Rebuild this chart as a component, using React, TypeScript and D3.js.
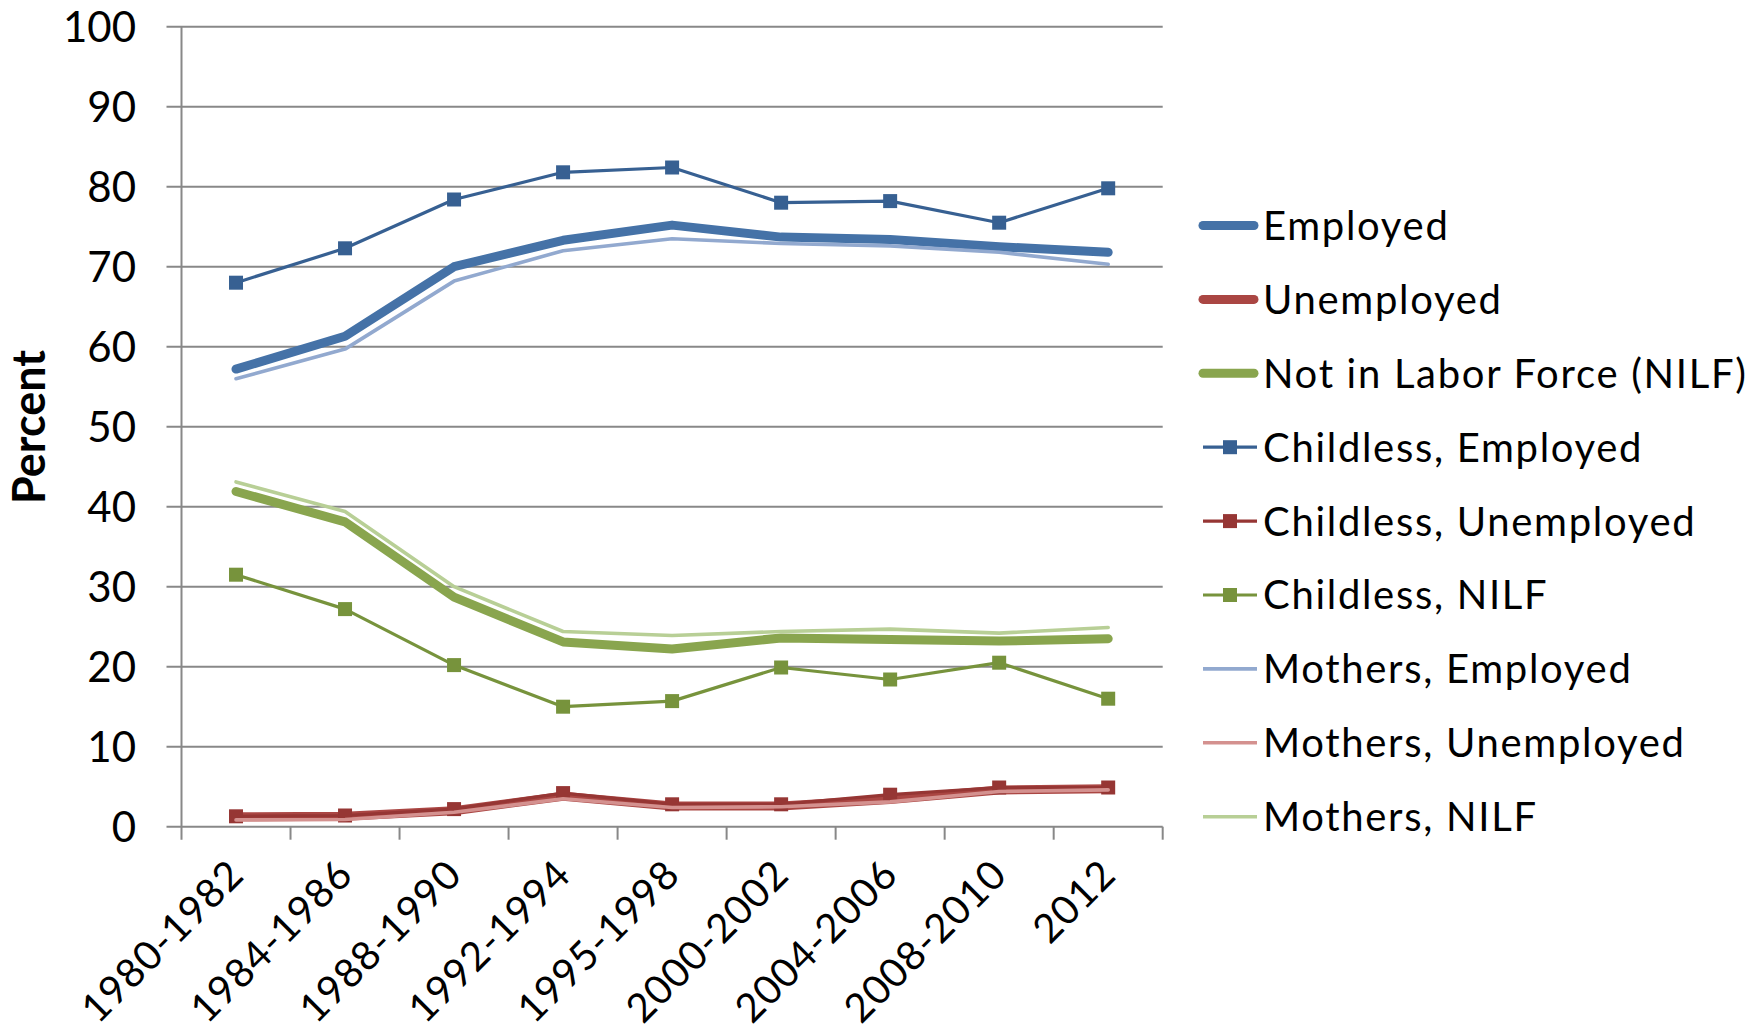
import React from "react";
import * as d3 from "d3";

const categories = ["1980-1982", "1984-1986", "1988-1990", "1992-1994", "1995-1998", "2000-2002", "2004-2006", "2008-2010", "2012"];
const employed = [57.2, 61.3, 70.0, 73.3, 75.2, 73.7, 73.4, 72.5, 71.8];
const unemployed = [1.25, 1.3, 2.0, 3.8, 2.6, 2.6, 3.4, 4.6, 4.75];
const nilf = [41.9, 38.1, 28.7, 23.1, 22.2, 23.6, 23.4, 23.2, 23.5];
const childlessEmployed = [68.0, 72.3, 78.4, 81.8, 82.4, 78.0, 78.2, 75.5, 79.8];
const childlessUnemployed = [1.3, 1.4, 2.2, 4.2, 2.8, 2.8, 4.0, 4.9, 4.9];
const childlessNilf = [31.5, 27.2, 20.2, 15.0, 15.7, 19.9, 18.4, 20.5, 16.0];
const mothersEmployed = [56.0, 59.7, 68.2, 72.0, 73.5, 72.9, 72.6, 71.8, 70.3];
const mothersUnemployed = [0.85, 0.9, 1.8, 3.5, 2.4, 2.5, 3.1, 4.4, 4.6];
const mothersNilf = [43.1, 39.4, 30.0, 24.4, 23.9, 24.4, 24.7, 24.2, 24.9];
const yTicks = [0, 10, 20, 30, 40, 50, 60, 70, 80, 90, 100];

const seriesNames = [
  "Employed",
  "Unemployed",
  "Not in Labor Force (NILF)",
  "Childless, Employed",
  "Childless, Unemployed",
  "Childless, NILF",
  "Mothers, Employed",
  "Mothers, Unemployed",
  "Mothers, NILF",
];
const seriesValues = [employed, unemployed, nilf, childlessEmployed, childlessUnemployed, childlessNilf, mothersEmployed, mothersUnemployed, mothersNilf];
const seriesColors = ["#4572A7", "#AA4643", "#89A54E", "#376092", "#963634", "#77933C", "#92A9CF", "#D4918F", "#B8CF96"];
const seriesKinds = ["thick", "thick", "thick", "marker", "marker", "marker", "thin", "thin", "thin"];

const W = 1764;
const H = 1034;
const left = 181.5;
const right = 1162.7;
const y0 = 826.7;
const y100 = 26.7;
const FONT = "Lato, 'Open Sans', sans-serif";
const gridColor = "#888888";

export default function App() {
  const x = d3.scaleBand<string>().domain(categories).range([left, right]).padding(0);
  const y = d3.scaleLinear().domain([0, 100]).range([y0, y100]);
  const cx = (c: string) => (x(c) as number) + x.bandwidth() / 2;

  const line = (vals: number[]) =>
    d3.line<number>().x((_, i) => cx(categories[i])).y((v) => y(v))(vals) as string;

  const widthFor = (k: string) => (k === "thick" ? 9 : k === "marker" ? 3.2 : 3.6);
  const legendY0 = 225.5;
  const legendStep = 73.9;

  return (
    <div style={{ position: "absolute", left: 0, top: 0 }}>
      <svg width={W} height={H} viewBox={`0 0 ${W} ${H}`} style={{ display: "block", background: "#fff" }}>
        {/* gridlines */}
        {yTicks.map((t) => (
          <line key={"g" + t} x1={left - 15} x2={right} y1={y(t)} y2={y(t)} stroke={gridColor} strokeWidth={2} />
        ))}
        {/* y axis */}
        <line x1={left} x2={left} y1={y100} y2={y0 + 13} stroke={gridColor} strokeWidth={2} />
        {/* x ticks */}
        {categories.map((c, i) => (
          <line key={"xt" + i} x1={(x(c) as number) + x.bandwidth()} x2={(x(c) as number) + x.bandwidth()} y1={y0} y2={y0 + 13} stroke={gridColor} strokeWidth={2} />
        ))}
        {/* y labels */}
        {yTicks.map((t) => (
          <text key={"yl" + t} x={136} y={y(t)} dy="0.36em" textAnchor="end" fontFamily={FONT} fontSize={42} fill="#000">
            {t}
          </text>
        ))}
        {/* y title */}
        <text transform={`translate(45,427) rotate(-90)`} textAnchor="middle" fontFamily={FONT} fontSize={45} fontWeight="bold" fill="#000">
          Percent
        </text>
        {/* x labels */}
        {categories.map((c) => (
          <text key={"xl" + c} transform={`translate(${cx(c) + 10},877) rotate(-45)`} textAnchor="end" fontFamily={FONT} fontSize={40} letterSpacing={1} fill="#000">
            {c}
          </text>
        ))}
        {/* series */}
        {seriesValues.map((vals, si) => (
          <g key={"s" + si}>
            <path
              d={line(vals)}
              fill="none"
              stroke={seriesColors[si]}
              strokeWidth={widthFor(seriesKinds[si])}
              strokeLinejoin="round"
              strokeLinecap="round"
            />
            {seriesKinds[si] === "marker" &&
              vals.map((v, i) => (
                <rect key={i} x={cx(categories[i]) - 7} y={y(v) - 7} width={14} height={14} fill={seriesColors[si]} />
              ))}
          </g>
        ))}
        {/* legend */}
        {seriesNames.map((name, si) => {
          const ly = legendY0 + si * legendStep;
          const kind = seriesKinds[si];
          return (
            <g key={"lg" + si}>
              {kind === "thick" ? (
                <line x1={1203} x2={1254} y1={ly} y2={ly} stroke={seriesColors[si]} strokeWidth={9} strokeLinecap="round" />
              ) : (
                <line x1={1203} x2={1257} y1={ly} y2={ly} stroke={seriesColors[si]} strokeWidth={kind === "marker" ? 3.2 : 3.6} />
              )}
              {kind === "marker" && <rect x={1223} y={ly - 7} width={14} height={14} fill={seriesColors[si]} />}
              <text x={1263} y={ly} dy="0.36em" fontFamily={FONT} fontSize={40} letterSpacing={1.7} fill="#000">
                {name}
              </text>
            </g>
          );
        })}
      </svg>
    </div>
  );
}
